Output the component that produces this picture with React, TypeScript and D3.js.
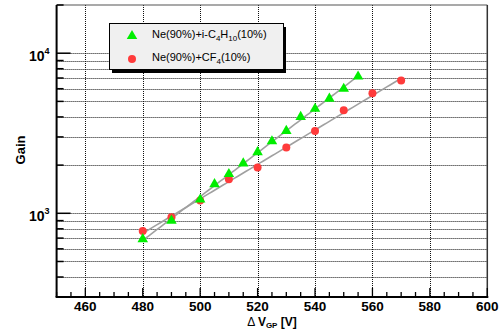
import React from "react";
import * as d3 from "d3";

// Ne(90%)+i-C4H10(10%)
const voltIso = [480, 490, 500, 505, 510, 515, 520, 525, 530, 535, 540, 545, 550, 555];
const gainIso = [690, 900, 1220, 1520, 1760, 2050, 2410, 2820, 3270, 4000, 4500, 5200, 6000, 7150];

// Ne(90%)+CF4(10%)
const voltCF4 = [480, 490, 500, 510, 520, 530, 540, 550, 560, 570];
const gainCF4 = [775, 945, 1200, 1630, 1930, 2580, 3270, 4400, 5630, 6760];

const xTicks = [460, 480, 500, 520, 540, 560, 580, 600];
const yMajor = [1000, 10000];

const W = 503;
const H = 329;
const m = { left: 56.6, right: 15.7, top: 5, bottom: 32 };

// exponential fit: log10(g) = a + b*v
function fitExp(vs: number[], gs: number[]) {
  const ly = gs.map((g) => Math.log10(g));
  const mx = d3.mean(vs)!;
  const my = d3.mean(ly)!;
  let sxy = 0, sxx = 0;
  vs.forEach((v, i) => {
    sxy += (v - mx) * (ly[i] - my);
    sxx += (v - mx) * (v - mx);
  });
  const b = sxy / sxx;
  const a = my - b * mx;
  return (v: number) => Math.pow(10, a + b * v);
}

export default function App() {
  const x = d3.scaleLinear().domain([450, 600]).range([m.left, W - m.right]);
  const y = d3.scaleLog().domain([300, 20000]).range([H - m.bottom, m.top]);

  const minorY: number[] = [];
  [100, 1000, 10000].forEach((dec) => {
    for (let k = 1; k < 10; k++) {
      const v = dec * k;
      if (v >= 300 && v <= 20000) minorY.push(v);
    }
  });
  const minorX = d3.range(450, 601, 5);

  const fIso = fitExp(voltIso, gainIso);
  const fCF4 = fitExp(voltCF4, gainCF4);
  const line = d3.line<[number, number]>().x((d) => x(d[0])).y((d) => y(d[1]));
  const isoPts: [number, number][] = d3.range(voltIso[0], voltIso[voltIso.length - 1] + 0.1, 1).map((v) => [v, fIso(v)]);
  const cfPts: [number, number][] = d3.range(voltCF4[0], voltCF4[voltCF4.length - 1] + 0.1, 1).map((v) => [v, fCF4(v)]);

  const tri = d3.symbol().type(d3.symbolTriangle).size(48)();
  const font = "Liberation Sans, Arial, sans-serif";
  const x0 = m.left;
  const x1 = W - m.right;
  const y0 = H - m.bottom;
  const y1 = m.top;

  return (
    <svg width={W} height={H} style={{ position: "absolute", left: 0, top: 0, background: "#fff" }} fontFamily={font}>
      {/* grid */}
      <g stroke="#111" strokeWidth={1} strokeDasharray="1 1">
        {minorY.filter((v) => v < 20000).map((v) => (
          <line key={"gy" + v} x1={x0} x2={x1} y1={Math.round(y(v)) + 0.5} y2={Math.round(y(v)) + 0.5} />
        ))}
        {xTicks.filter((v) => v < 600).map((v) => (
          <line key={"gx" + v} x1={Math.round(x(v)) + 0.5} x2={Math.round(x(v)) + 0.5} y1={y1} y2={y0} />
        ))}
      </g>

      {/* frame */}
      <line x1={x0} x2={x1} y1={y1} y2={y1} stroke="#555" strokeWidth={1.2} />
      <line x1={x1} x2={x1} y1={y1} y2={y0} stroke="#333" strokeWidth={1.5} />
      <line x1={x0} x2={x0} y1={y1} y2={y0} stroke="#000" strokeWidth={2} />
      <line x1={x0 - 1} x2={x1 + 1} y1={y0} y2={y0} stroke="#000" strokeWidth={2} />

      {/* x ticks */}
      <g stroke="#000" strokeWidth={1.3}>
        {minorX.map((v) => (
          <line key={"tx" + v} x1={x(v)} x2={x(v)} y1={y0} y2={y0 - ((v - 460) % 20 === 0 ? 9 : 5)} />
        ))}
      </g>
      {/* y ticks */}
      <g stroke="#000" strokeWidth={1.5}>
        {minorY.map((v) => (
          <line key={"ty" + v} x1={x0} x2={x0 + (yMajor.includes(v) ? 14 : 7)} y1={y(v)} y2={y(v)} />
        ))}
      </g>

      {/* tick labels */}
      <g fontWeight="bold" fontSize={13.5} textAnchor="middle" fill="#000">
        {xTicks.map((v) => (
          <text key={"lx" + v} x={x(v)} y={311}>{v}</text>
        ))}
      </g>
      {yMajor.map((v) => (
        <text key={"ly" + v} x={29} y={y(v) + 8} fontWeight="bold" fontSize={14} fill="#000">
          10<tspan dy={-7} fontSize={9}>{Math.round(Math.log10(v))}</tspan>
        </text>
      ))}

      {/* axis titles */}
      <text x={272} y={326} textAnchor="middle" fontSize={12} fill="#000">
        <tspan fontWeight="normal">Δ </tspan>
        <tspan fontWeight="bold">V</tspan>
        <tspan fontWeight="bold" fontSize={8} dy={2}>GP</tspan>
        <tspan fontWeight="bold" dy={-2}> [V]</tspan>
      </text>
      <text transform="translate(25,150) rotate(-90)" textAnchor="middle" fontWeight="bold" fontSize={13} fill="#000">
        Gain
      </text>

      {/* fit lines */}
      <path d={line(isoPts)!} fill="none" stroke="#a0a0a0" strokeWidth={1.6} />
      <path d={line(cfPts)!} fill="none" stroke="#a0a0a0" strokeWidth={1.6} />

      {/* markers */}
      {voltCF4.map((v, i) => (
        <circle key={"c" + v} cx={x(v)} cy={y(gainCF4[i])} r={4} fill="#ff3b3b" />
      ))}
      {voltIso.map((v, i) => (
        <path key={"t" + v} d={tri!} transform={`translate(${x(v)},${y(gainIso[i])})`} fill="#00ee00" />
      ))}

      {/* legend */}
      <rect x={112} y={27} width={174} height={46} fill="#000" />
      <rect x={109.5} y={23.5} width={174} height={46} fill="#f0f0f0" stroke="#000" strokeWidth={1} />
      <path d={tri!} transform="translate(132,36)" fill="#00ee00" />
      <circle cx={132} cy={59} r={4} fill="#ff3b3b" />
      <text x={152} y={38} fontSize={11} fill="#000">
        Ne(90%)+i-C<tspan fontSize={8} dy={3}>4</tspan>
        <tspan dy={-3}>H</tspan>
        <tspan fontSize={8} dy={3}>10</tspan>
        <tspan dy={-3}>(10%)</tspan>
      </text>
      <text x={152} y={61} fontSize={11} fill="#000">
        Ne(90%)+CF<tspan fontSize={8} dy={3}>4</tspan>
        <tspan dy={-3}>(10%)</tspan>
      </text>
    </svg>
  );
}
